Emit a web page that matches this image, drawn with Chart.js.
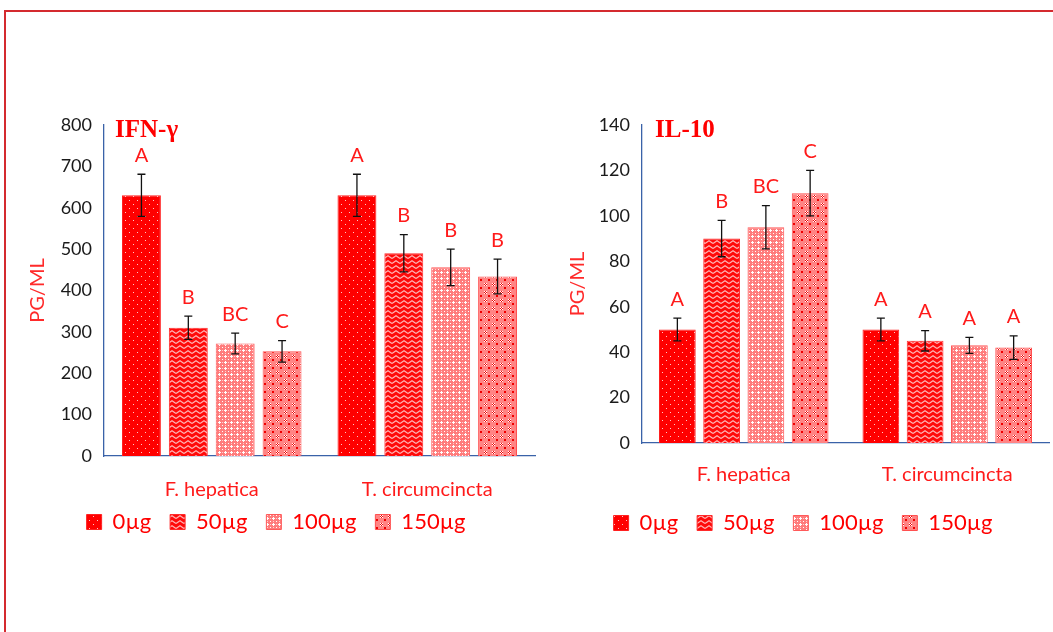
<!DOCTYPE html>
<html lang="en">
<head>
<meta charset="UTF-8">
<title>IFN-γ and IL-10</title>
<script src="https://cdn.jsdelivr.net/npm/chart.js"></script>
<style>
    body { margin: 0; background: #fff; }
    #page { position: relative; width: 1053px; height: 632px; overflow: hidden; }
    .frame { position: absolute; left: 4px; top: 10px; width: 1100px; height: 700px;
             border-top: 2px solid #d42a2f; border-left: 2px solid #d42a2f; }
    .box { position: absolute; top: 95px; }
</style>
</head>
<body>
<div id="page">
    <div class="frame"></div>
    <div class="box" style="left:0;width:545px;height:456px"><canvas id="ifn"></canvas></div>
    <div class="box" style="left:545px;width:508px;height:457px"><canvas id="il10"></canvas></div>
</div>

<script>
    // data
    const groups = ['F. hepatica', 'T. circumcincta'];
    const doses = ['0µg', '50µg', '100µg', '150µg'];

    const ifnValues = [[630, 630], [310, 490], [272, 456], [253, 434]];
    const ifnErrors = [[51, 51], [28, 45], [25, 44], [26, 42]];
    const ifnLetters = [['A', 'A'], ['B', 'B'], ['BC', 'B'], ['C', 'B']];

    const ilValues = [[50, 50], [90, 45], [95, 43], [110, 42]];
    const ilErrors = [[5, 5], [8, 4.5], [9.5, 3.5], [10, 5.2]];
    const ilLetters = [['A', 'A'], ['B', 'A'], ['BC', 'A'], ['C', 'A']];

    Chart.defaults.font.family = 'Lato, "Open Sans", sans-serif';
    Chart.defaults.animation = false;

    // hatch fills like the office patterns
    function px(g, color, pts) {
        g.fillStyle = color;
        pts.forEach(p => g.fillRect(p[0], p[1], p[2] || 1, p[3] || 1));
    }
    function makePattern(kind) {
        const c = document.createElement('canvas');
        const g = c.getContext('2d');
        if (kind === 0) {
            c.width = 8; c.height = 8;
            px(g, '#ff0000', [[0, 0, 8, 8]]);
            px(g, '#ffc8c8', [[1, 1], [5, 5]]);
        } else if (kind === 1) {
            c.width = 8; c.height = 5;
            px(g, '#ff0a0a', [[0, 0, 8, 5]]);
            g.strokeStyle = '#ffb4b4'; g.lineWidth = 1.2;
            g.beginPath(); g.moveTo(0, 3.6); g.lineTo(4, 0.8); g.lineTo(8, 3.6); g.stroke();
        } else if (kind === 2) {
            c.width = 6; c.height = 6;
            px(g, '#ff7c7c', [[0, 0, 6, 6]]);
            px(g, '#ffffff', [[3, 2], [2, 3], [3, 3], [4, 3], [3, 4], [0, 0]]);
            px(g, '#ffd0d0', [[0, 3], [3, 0]]);
        } else {
            c.width = 8; c.height = 8;
            px(g, '#ff8484', [[0, 0, 8, 8]]);
            px(g, '#f00000', [[0, 0, 2, 2], [5, 4], [4, 5], [6, 5], [5, 6]]);
            px(g, '#ffffff', [[4, 4], [6, 4], [5, 5], [4, 6], [6, 6]]);
        }
        return g.createPattern(c, 'repeat');
    }
    const fills = [0, 1, 2, 3].map(makePattern);
    const edges = ['#ff2020', '#ff2a2a', '#ff5a5a', '#ff5050'];

    // error bars and letters, placed through the y scale
    const marks = {
        id: 'marks',
        afterDatasetsDraw(chart, args, opts) {
            const ctx = chart.ctx;
            const y = chart.scales.y;
            ctx.save();
            chart.data.datasets.forEach((ds, i) => {
                const meta = chart.getDatasetMeta(i);
                meta.data.forEach((bar, j) => {
                    const v = ds.data[j], e = opts.errors[i][j];
                    const top = y.getPixelForValue(v + e), bot = y.getPixelForValue(v - e);
                    ctx.strokeStyle = '#111'; ctx.lineWidth = 1.3;
                    ctx.beginPath();
                    ctx.moveTo(bar.x, top); ctx.lineTo(bar.x, bot);
                    ctx.moveTo(bar.x - 4, top); ctx.lineTo(bar.x + 4, top);
                    ctx.moveTo(bar.x - 4, bot); ctx.lineTo(bar.x + 4, bot);
                    ctx.stroke();
                    ctx.fillStyle = '#ff1a1a';
                    ctx.font = '20px Lato, sans-serif';
                    ctx.textAlign = 'center'; ctx.textBaseline = 'middle';
                    ctx.fillText(opts.letters[i][j], bar.x, top - 19);
                });
            });
            const a = chart.chartArea;
            ctx.fillStyle = '#ff0000';
            ctx.font = 'bold 25px "Liberation Serif", "DejaVu Serif", serif';
            ctx.textAlign = 'left'; ctx.textBaseline = 'middle';
            ctx.fillText(opts.title, a.left + opts.titleDx, a.top + 6);
            ctx.restore();
        }
    };

    // a little extra room after each legend entry
    function legendItems(chart) {
        return Chart.defaults.plugins.legend.labels.generateLabels(chart)
            .map(it => Object.assign(it, { text: it.text + '\u2002' }));
    }

    function build(id, values, errors, letters, title, yMax, yStep, cfg) {
        new Chart(document.getElementById(id), {
            type: 'bar',
            data: {
                labels: groups,
                datasets: doses.map((d, i) => ({
                    label: d,
                    data: values[i],
                    backgroundColor: fills[i],
                    borderColor: edges[i],
                    borderWidth: 1,
                    categoryPercentage: 0.87,
                    barPercentage: 0.83
                }))
            },
            options: {
                responsive: true,
                maintainAspectRatio: false,
                layout: { padding: { top: 30, right: cfg.right, bottom: 8, left: cfg.left } },
                scales: {
                    x: {
                        grid: { display: false, drawTicks: false },
                        border: { color: '#3a62a8', width: 1.3 },
                        ticks: { color: '#ff1a1a', font: { size: 20 }, padding: cfg.tickPad },
                        afterFit(s) { s.height = cfg.xHeight; }
                    },
                    y: {
                        min: 0, max: yMax,
                        grid: { display: false, drawTicks: false },
                        border: { color: '#3a62a8', width: 1.3 },
                        ticks: { stepSize: yStep, color: '#1a1a1a', font: { size: 18 }, padding: 12 },
                        title: { display: true, text: 'PG/ML', color: '#ff2a2a',
                                 font: { size: 20, lineHeight: 1 }, padding: { top: 0, bottom: 0 } },
                        afterFit(s) { s.width = cfg.yWidth; }
                    }
                },
                plugins: {
                    legend: {
                        position: 'bottom',
                        labels: { color: '#ff0000', font: { size: 22 }, boxWidth: 15, boxHeight: 15,
                                  padding: 8, generateLabels: legendItems }
                    },
                    tooltip: { enabled: false },
                    marks: { errors: errors, letters: letters, title: title, titleDx: cfg.titleDx }
                }
            },
            plugins: [marks]
        });
    }

    build('ifn', ifnValues, ifnErrors, ifnLetters, 'IFN-γ', 800, 100,
        { left: 28, right: 10, tickPad: 22, xHeight: 47, yWidth: 76, titleDx: 11 });
    build('il10', ilValues, ilErrors, ilLetters, 'IL-10', 140, 20,
        { left: 23, right: 4, tickPad: 20, xHeight: 61, yWidth: 74, titleDx: 13 });
</script>
</body>
</html>
